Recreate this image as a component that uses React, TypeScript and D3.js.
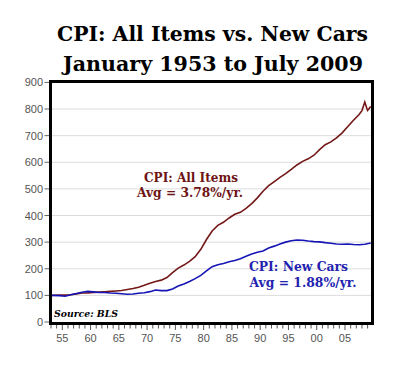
import React from 'react';
import * as d3 from 'd3';

// CPI indexed to Jan 1953 = 100
const allYears = [1953.0, 1953.5, 1954.5, 1955.5, 1956.5, 1957.5, 1958.5, 1959.5, 1960.5, 1961.5, 1962.5, 1963.5, 1964.5, 1965.5, 1966.5, 1967.5, 1968.5, 1969.5, 1970.5, 1971.5, 1972.5, 1973.5, 1974.5, 1975.5, 1976.5, 1977.5, 1978.5, 1979.5, 1980.5, 1981.5, 1982.5, 1983.5, 1984.5, 1985.5, 1986.5, 1987.5, 1988.5, 1989.5, 1990.5, 1991.5, 1992.5, 1993.5, 1994.5, 1995.5, 1996.5, 1997.5, 1998.5, 1999.5, 2000.5, 2001.5, 2002.5, 2003.5, 2004.5, 2005.5, 2006.5, 2007.5, 2008.0, 2008.5, 2008.9, 2009.0, 2009.3, 2009.55];
const allItems = [100, 100.4, 101.1, 100.8, 102.3, 105.7, 108.7, 109.4, 111.3, 112.4, 113.6, 115.1, 116.6, 118.4, 121.8, 125.6, 130.8, 138.0, 145.9, 152.3, 157.2, 166.9, 185.4, 202.3, 213.9, 227.9, 245.2, 273.0, 309.8, 341.8, 362.8, 374.5, 390.7, 404.6, 412.1, 427.1, 444.8, 466.2, 491.4, 512.1, 527.5, 543.3, 557.2, 573.0, 589.9, 603.5, 612.9, 626.4, 647.5, 665.9, 676.4, 691.8, 710.3, 734.3, 758.0, 779.4, 794, 826, 800, 795, 803, 810];

const carYears = [1953.0, 1954.5, 1955.5, 1956.5, 1957.5, 1958.5, 1959.5, 1960.5, 1961.5, 1962.5, 1963.5, 1964.5, 1965.5, 1966.5, 1967.5, 1968.5, 1969.5, 1970.5, 1971.5, 1972.5, 1973.5, 1974.5, 1975.5, 1976.5, 1977.5, 1978.5, 1979.5, 1980.5, 1981.5, 1982.5, 1983.5, 1984.5, 1985.5, 1986.5, 1987.5, 1988.5, 1989.5, 1990.5, 1991.5, 1992.5, 1993.5, 1994.5, 1995.5, 1996.5, 1997.5, 1998.5, 1999.5, 2000.5, 2001.5, 2002.5, 2003.5, 2004.5, 2005.5, 2006.5, 2007.5, 2008.5, 2009.55];
const newCars = [100, 99, 97, 102, 107, 112, 115, 113, 111, 111, 109, 108, 106, 104, 105, 108, 110, 114, 120, 118, 118, 124, 135, 143, 152, 163, 175, 192, 208, 215, 220, 226, 231, 238, 247, 255, 262, 267, 278, 285, 293, 300, 305, 308, 307, 304, 302, 301, 298, 296, 293, 292, 293, 291, 290, 292, 297];

const yTicks = [0, 100, 200, 300, 400, 500, 600, 700, 800, 900];
const xLabelYears = [1955, 1960, 1965, 1970, 1975, 1980, 1985, 1990, 1995, 2000, 2005];
const xLabels = ['55', '60', '65', '70', '75', '80', '85', '90', '95', '00', '05'];

const serif = '"DejaVu Serif", Georgia, serif';
const sans = '"Liberation Sans", Arial, sans-serif';

export default function App() {
  const x = d3.scaleLinear().domain([1953, 2009.6]).range([51, 371]);
  const y = d3.scaleLinear().domain([0, 900]).range([322, 82.4]);

  const line = d3.line<[number, number]>()
    .x(d => x(d[0]))
    .y(d => y(d[1]));

  const allPts = allYears.map((yr, i) => [yr, allItems[i]] as [number, number]);
  const carPts = carYears.map((yr, i) => [yr, newCars[i]] as [number, number]);
  const minor = d3.range(1953, 2010);

  return (
    <svg width={400} height={365} style={{ position: 'absolute', left: 0, top: 0, background: '#fff' }}>
      <text x={212.5} y={40.7} textAnchor="middle" fontFamily={serif} fontWeight="bold" fontSize={21}
        textLength={311} lengthAdjust="spacingAndGlyphs">CPI: All Items vs. New Cars</text>
      <text x={213} y={70.7} textAnchor="middle" fontFamily={serif} fontWeight="bold" fontSize={21}
        textLength={300} lengthAdjust="spacingAndGlyphs">January 1953 to July 2009</text>

      {yTicks.slice(1, -1).map(t => (
        <line key={t} x1={51} x2={372} y1={y(t)} y2={y(t)} stroke="#dcdcdc" strokeWidth={1} />
      ))}
      {yTicks.map(t => (
        <g key={t}>
          <line x1={44.5} x2={49} y1={y(t)} y2={y(t)} stroke="#666" strokeWidth={1} />
          <text x={43} y={y(t) + 4} textAnchor="end" fontFamily={sans} fontSize={11} fill="#555">{t}</text>
        </g>
      ))}

      {minor.map(yr => (
        <line key={yr} x1={x(yr)} x2={x(yr)} y1={325} y2={yr % 5 === 0 ? 330 : 328.5} stroke="#555" strokeWidth={1} />
      ))}
      {xLabelYears.map((yr, i) => (
        <text key={yr} x={x(yr)} y={342} textAnchor="middle" fontFamily={sans} fontSize={11} fill="#555">{xLabels[i]}</text>
      ))}

      <path d={line(allPts) ?? ''} fill="none" stroke="#731717" strokeWidth={1.6} />
      <path d={line(carPts) ?? ''} fill="none" stroke="#1515b5" strokeWidth={1.6} />

      <rect x={50.5} y={81.5} width={322} height={242} fill="none" stroke="#000" strokeWidth={3} />

      <text x={191} y={181.7} textAnchor="middle" fontFamily={serif} fontWeight="bold" fontSize={13} fill="#6e1414"
        textLength={94} lengthAdjust="spacingAndGlyphs">CPI: All Items</text>
      <text x={190} y={197.3} textAnchor="middle" fontFamily={serif} fontWeight="bold" fontSize={13} fill="#6e1414"
        textLength={106} lengthAdjust="spacingAndGlyphs">Avg = 3.78%/yr.</text>
      <text x={298.5} y={271} textAnchor="middle" fontFamily={serif} fontWeight="bold" fontSize={13} fill="#2323b0"
        textLength={99} lengthAdjust="spacingAndGlyphs">CPI: New Cars</text>
      <text x={303} y={286.7} textAnchor="middle" fontFamily={serif} fontWeight="bold" fontSize={13} fill="#2323b0"
        textLength={107} lengthAdjust="spacingAndGlyphs">Avg = 1.88%/yr.</text>

      <text x={54} y={317.3} fontFamily={serif} fontWeight="bold" fontStyle="italic" fontSize={10}
        textLength={64} lengthAdjust="spacingAndGlyphs">Source: BLS</text>
    </svg>
  );
}
